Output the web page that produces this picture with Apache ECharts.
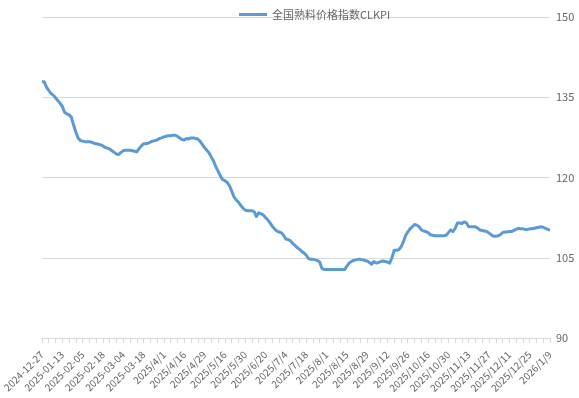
<!DOCTYPE html>
<html>
<head>
<meta charset="utf-8">
<title>全国熟料价格指数CLKPI</title>
<style>
html, body { margin: 0; padding: 0; background: #fff; }
#chart { width: 579px; height: 398px; }
</style>
</head>
<body>
<div id="chart"></div>
<script src="https://cdn.jsdelivr.net/npm/echarts@6/dist/echarts.min.js"></script>
<script>
// dates shown on the x axis, one every 9 points
var labelDates = ['2024-12-27', '2025-01-13', '2025-02-05', '2025-02-18', '2025-03-04', '2025-03-18',
	'2025/4/1', '2025/4/16', '2025/4/29', '2025/5/16', '2025/5/30', '2025/6/20', '2025/7/4',
	'2025/7/18', '2025/8/1', '2025/8/15', '2025/8/29', '2025/9/12', '2025/9/26', '2025/10/16',
	'2025/10/30', '2025/11/13', '2025/11/27', '2025/12/11', '2025/12/25', '2026/1/9'];
var pointsPerLabel = 9;

var yTicks = [90, 105, 120, 135, 150];

var clkpi = [
	137.9, 137.9, 136.9, 136.3, 135.7, 135.4, 134.9, 134.4, 133.9, 133.3,
	132.2, 131.9, 131.7, 131.3, 129.8, 128.5, 127.4, 126.9, 126.8, 126.7,
	126.7, 126.7, 126.6, 126.4, 126.3, 126.2, 126.1, 125.9, 125.6, 125.5,
	125.3, 125.0, 124.7, 124.4, 124.3, 124.7, 125.0, 125.1, 125.1, 125.1,
	125.0, 124.9, 124.8, 125.4, 125.9, 126.3, 126.3, 126.4, 126.6, 126.8,
	126.9, 127.0, 127.3, 127.4, 127.6, 127.7, 127.8, 127.8, 127.9, 127.9,
	127.7, 127.4, 127.1, 127.0, 127.3, 127.2, 127.4, 127.4, 127.3, 127.2,
	126.8, 126.2, 125.6, 125.1, 124.6, 123.8, 123.1, 122.0, 121.2, 120.3,
	119.6, 119.4, 119.1, 118.5, 117.5, 116.4, 115.8, 115.4, 114.8, 114.3,
	113.9, 113.8, 113.8, 113.8, 113.6, 112.7, 113.4, 113.2, 113.0, 112.5,
	112.1, 111.5, 110.9, 110.4, 110.0, 109.8, 109.7, 109.2, 108.5, 108.4,
	108.2, 107.7, 107.3, 106.9, 106.6, 106.2, 105.9, 105.5, 104.9, 104.7,
	104.7, 104.6, 104.5, 104.2, 103.0, 102.8, 102.8, 102.8, 102.8, 102.8,
	102.8, 102.8, 102.8, 102.8, 102.8, 103.4, 104.0, 104.3, 104.5, 104.6,
	104.7, 104.7, 104.6, 104.5, 104.4, 104.1, 103.8, 104.3, 104.0, 104.1,
	104.3, 104.4, 104.3, 104.2, 104.0, 105.0, 106.4, 106.4, 106.5, 107.0,
	107.9, 109.1, 109.8, 110.4, 110.8, 111.2, 111.1, 110.8, 110.2, 110.0,
	109.9, 109.7, 109.3, 109.2, 109.1, 109.1, 109.1, 109.1, 109.1, 109.2,
	109.7, 110.2, 109.9, 110.5, 111.5, 111.5, 111.4, 111.7, 111.5, 110.8,
	110.8, 110.8, 110.8, 110.5, 110.2, 110.1, 110.0, 109.9, 109.6, 109.3,
	109.0, 109.0, 109.1, 109.3, 109.7, 109.8, 109.8, 109.9, 109.9, 110.1,
	110.3, 110.5, 110.4, 110.4, 110.3, 110.3, 110.4, 110.4, 110.5, 110.6,
	110.7, 110.8, 110.7, 110.5, 110.3, 110.2
];

// one category per point; only every 9th carries a visible date
var categories = [];
for (var i = 0; i < clkpi.length; i++) {
	var k = Math.floor(i / pointsPerLabel);
	var r = i % pointsPerLabel;
	categories.push(r === 0 ? labelDates[k] : labelDates[k] + '#' + r);
}

(function(){
	var chart = echarts.init(document.getElementById('chart'));
	var font = 'Noto Sans CJK SC';

	var option = {
		backgroundColor: '#ffffff',
		animation: false,
		textStyle: { fontFamily: font },
		legend: {
			left: 234,
			top: 4,
			icon: 'rect',
			itemWidth: 28,
			itemHeight: 3,
			itemGap: 6,
			textStyle: { color: '#666666', fontSize: 11, fontFamily: font },
			data: ['全国熟料价格指数CLKPI']
		},
		grid: {
			left: 40,
			right: 29,
			top: 17,
			bottom: 60
		},
		xAxis: {
			type: 'category',
			boundaryGap: false,
			data: categories,
			axisLine: { lineStyle: { color: '#d9d9d9', width: 1 } },
			axisTick: {
				show: true,
				interval: 2,
				length: 5,
				lineStyle: { color: '#d9d9d9' }
			},
			axisLabel: {
				interval: pointsPerLabel - 1,
				rotate: 45,
				margin: 15,
				color: '#666666',
				fontSize: 10,
				fontFamily: font
			},
			splitLine: { show: false }
		},
		yAxis: {
			type: 'value',
			position: 'right',
			min: yTicks[0],
			max: yTicks[yTicks.length - 1],
			interval: 15,
			axisLine: { show: false },
			axisTick: { show: false },
			axisLabel: { color: '#666666', fontSize: 11, margin: 6, fontFamily: font },
			splitLine: { lineStyle: { color: '#d9d9d9', width: 1 } }
		},
		series: [
			{
				name: '全国熟料价格指数CLKPI',
				type: 'line',
				data: clkpi,
				showSymbol: false,
				symbol: 'none',
				itemStyle: { color: '#5b9bd5' },
				lineStyle: { color: '#5b9bd5', width: 3, join: 'round' }
			}
		]
	};
	chart.setOption(option);
})();
</script>
</body>
</html>
